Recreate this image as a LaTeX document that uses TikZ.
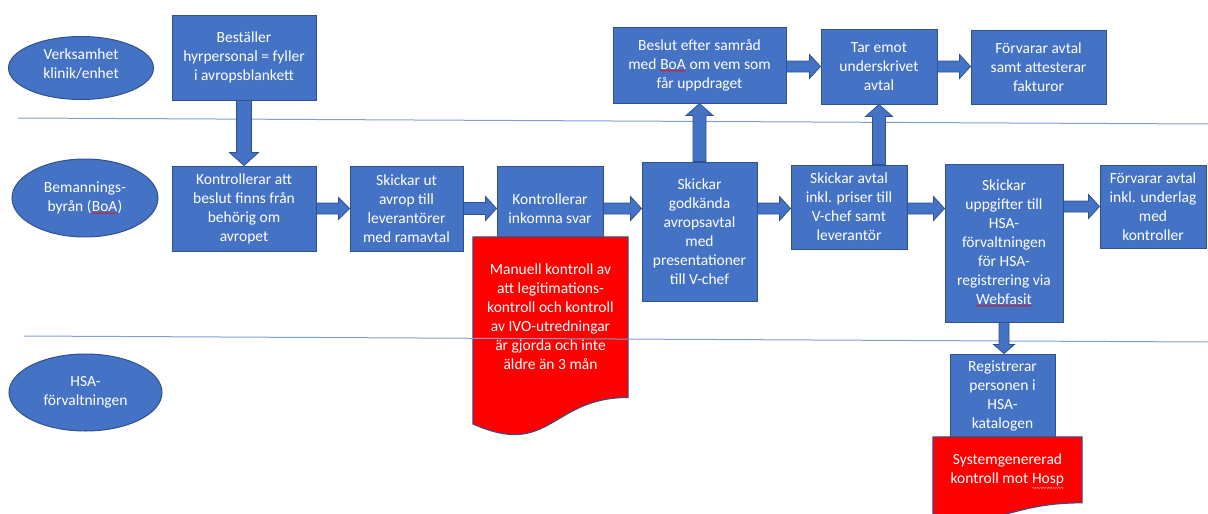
\documentclass[tikz,border=0pt]{standalone}
\usepackage{fontspec}
\setmainfont{Carlito}
\usetikzlibrary{calc,shapes.geometric,decorations.pathmorphing}
\definecolor{boxblue}{HTML}{4472C4}
\definecolor{edgeblue}{HTML}{2F528F}
\definecolor{laneblue}{HTML}{7F9FD8}
\definecolor{docred}{HTML}{FF0000}
\definecolor{squigpink}{HTML}{FF9A9A}
\newcommand\sq[2][red]{\tikz[baseline=(sqw.base)]{\node[shape=rectangle,minimum width=0pt,minimum height=0pt,inner sep=0pt,outer sep=0pt,text=white,anchor=base] (sqw) at (0,0) {#2};
  \draw[#1, line width=0.5pt, decorate, decoration={snake,amplitude=0.6pt,segment length=2.6pt}] ([yshift=-1.5pt]sqw.south west) -- ([yshift=-1.5pt]sqw.south east);}}
\newcommand\barrow[5]{%
  \coordinate (bs) at #4; \coordinate (bt) at #5;
  \coordinate (bh) at ($(bt)!#3pt!(bs)$);
  \filldraw[blockarrow] ($(bs)!#1pt!90:(bt)$) -- ($(bh)!#1pt!90:(bt)$) -- ($(bh)!#2pt!90:(bt)$) -- (bt)
    -- ($(bh)!#2pt!-90:(bt)$) -- ($(bh)!#1pt!-90:(bt)$) -- ($(bs)!#1pt!-90:(bt)$) -- cycle;}
\begin{document}
\begin{tikzpicture}[x=1pt,y=-1pt,
  txt/.style={text=white, align=center, inner sep=0pt, font=\fontsize{15.5}{19}\selectfont},
  bx/.style={txt, rectangle, fill=boxblue, draw=edgeblue, line width=1pt},
  lane/.style={ellipse, txt, fill=boxblue, draw=edgeblue, line width=1pt},
  docfill/.style={fill=docred, draw=edgeblue, line width=1pt},
  blockarrow/.style={fill=boxblue, draw=edgeblue, line width=0.8pt},
  sep/.style={draw=laneblue, line width=1pt}]
\useasboundingbox (0,0) rectangle (1208,514);

% lane labels
\node[lane, minimum width=145pt, minimum height=63pt] (e1) at (81,68) {};
\node[txt] (e1t) at (81,63.5) {Verksamhet\\klinik/enhet};
\node[lane, minimum width=146pt, minimum height=78pt] (e2) at (85,198) {Bemannings-\\byrån (\sq{BoA})};
\node[lane, minimum width=153pt, minimum height=77pt] (e3) at (85.5,392.5) {HSA-\\förvaltningen};

% boxes
\node[bx, minimum width=144pt, minimum height=85pt] (bes) at (244,57.5) {Beställer\\hyrpersonal = fyller\\i avropsblankett};
\node[bx, minimum width=144pt, minimum height=85pt] (k1) at (244,208.5) {Kontrollerar att\\beslut finns från\\behörig om\\avropet};
\node[bx, minimum width=113pt, minimum height=85pt] (s2) at (406.5,208.5) {Skickar ut\\avrop till\\leverantörer\\med ramavtal};
\node[bx, minimum width=106pt, minimum height=85pt] (k3) at (550,208.5) {Kontrollerar\\inkomna svar};
\node[bx, minimum width=115pt, minimum height=139pt] (g4) at (699.5,231.5) {Skickar\\godkända\\avropsavtal\\med\\presentationer\\till V-chef};
\node[bx, minimum width=116pt, minimum height=84pt] (sa5) at (849,207) {Skickar avtal\\inkl. priser till\\V-chef samt\\leverantör};
\node[bx, minimum width=118pt, minimum height=158pt] (su6) at (1004,243) {Skickar\\uppgifter till\\HSA-\\förvaltningen\\för HSA-\\registrering via\\\sq{Webfasit}};
\node[bx, minimum width=106pt, minimum height=83pt] (f7) at (1153,206.5) {Förvarar avtal\\inkl. underlag\\med\\kontroller};
\node[bx, minimum width=173pt, minimum height=76pt] (b8) at (699.5,65) {Beslut efter samråd\\med \sq{BoA} om vem som\\får uppdraget};
\node[bx, minimum width=116pt, minimum height=75pt] (t9) at (879,66.5) {Tar emot\\underskrivet\\avtal};
\node[bx, minimum width=135pt, minimum height=74pt] (f10) at (1038.5,67) {Förvarar avtal\\samt attesterar\\fakturor};
\node[bx, minimum width=105pt, minimum height=83pt] (r11) at (1002.5,395.5) {Registrerar\\personen i\\HSA-\\katalogen};

% documents
\node[inner sep=0pt, minimum width=155pt, minimum height=200pt] (d1) at (550.5,337) {};
\filldraw[docfill] (d1.north west) -- (d1.north east) -- ($(d1.north east)!0.802!(d1.south east)$)
  .. controls ($(d1.north)!0.802!(d1.south)$) and ($(d1.north)!1.107!(d1.south)$) .. ($(d1.north west)!0.934!(d1.south west)$) -- cycle;
\node[txt] (d1t) at ($(d1.north)!0.4!(d1.south)$) {Manuell kontroll av\\att legitimations-\\kontroll och kontroll\\av IVO-utredningar\\är gjorda och inte\\äldre än 3 mån};

\node[inner sep=0pt, minimum width=149pt, minimum height=82pt] (d2) at (1007.5,478) {};
\filldraw[docfill] (d2.north west) -- (d2.north east) -- ($(d2.north east)!0.802!(d2.south east)$)
  .. controls ($(d2.north)!0.802!(d2.south)$) and ($(d2.north)!1.107!(d2.south)$) .. ($(d2.north west)!0.934!(d2.south west)$) -- cycle;
\node[txt] (d2t) at ($(d2.north)!0.42!(d2.south)$) {Systemgenererad\\kontroll mot \sq[squigpink]{Hosp}};

% lane separators
\coordinate (l1a) at (18,118); \coordinate (l1b) at (1208,124);
\coordinate (l2a) at (24,336); \coordinate (l2b) at (1208,342);
\draw[sep] (l1a) -- (l1b);
\draw[sep] (l2a) -- (l2b);

% block arrows
\barrow{7.5}{14.5}{13}{(bes.south)}{(k1.north)}
\barrow{5.5}{11}{11}{(k1.east)}{(s2.west)}
\barrow{6}{12}{11}{(s2.east)}{(k3.west)}
\barrow{5.5}{12}{11}{(k3.east)}{(k3.east -| g4.west)}
\barrow{5.5}{12}{11}{(g4.east |- k1.east)}{(sa5.west |- k1.east)}
\barrow{5.5}{12}{11}{(sa5.east |- k1.east)}{(su6.west |- k1.east)}
\barrow{5.5}{12}{11}{(su6.east |- f7.west)}{(f7.west)}
\barrow{6.5}{13.5}{12}{(g4.north)}{(b8.south)}
\barrow{6.5}{13.5}{12}{(t9.south |- sa5.north)}{(t9.south)}
\barrow{5.5}{12}{11}{(b8.east |- t9.west)}{(t9.west)}
\barrow{5.5}{12}{11}{(t9.east)}{(t9.east -| f10.west)}
\barrow{5}{10.5}{9}{(su6.south)}{(su6.south |- r11.north)}
\end{tikzpicture}
\end{document}
